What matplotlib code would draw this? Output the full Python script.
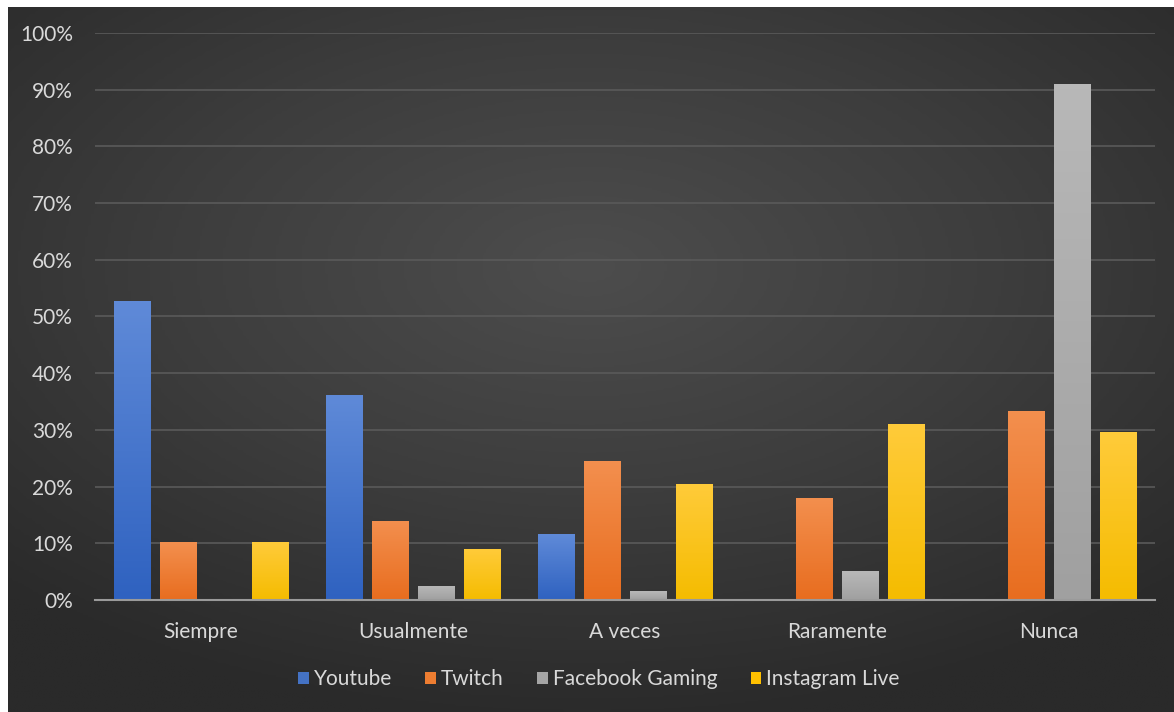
import numpy as np
import matplotlib
matplotlib.use('Agg')
import matplotlib.pyplot as plt
from matplotlib.colors import LinearSegmentedColormap
from matplotlib.patches import Rectangle
from matplotlib.ticker import PercentFormatter

plt.rcParams['font.family'] = ['Lato', 'DejaVu Sans']

# data
categories = ['Siempre', 'Usualmente', 'A veces', 'Raramente', 'Nunca']
youtube = [52.7, 36.2, 11.6, 0.0, 0.0]
twitch = [10.2, 14.0, 24.5, 18.0, 33.3]
facebook = [0.0, 2.5, 1.5, 5.1, 91.0]
instagram = [10.2, 9.0, 20.5, 31.0, 29.6]
series_names = ['Youtube', 'Twitch', 'Facebook Gaming', 'Instagram Live']
yticks = [0, 10, 20, 30, 40, 50, 60, 70, 80, 90, 100]

series = [youtube, twitch, facebook, instagram]
colors = ['#4472C4', '#ED7D31', '#A5A5A5', '#FFC000']
tops = ['#5F8AD8', '#F38F4E', '#B8B8B8', '#FFCB3A']
bottoms = ['#2F62C0', '#E86D1F', '#A0A0A0', '#F5BC00']

W, H = 1174, 712
fig = plt.figure(figsize=(W / 100, H / 100), dpi=100, facecolor='#2e2e2e')

# dark radial background (Excel style)
bg = fig.add_axes([0, 0, 1, 1])
bg.set_axis_off()
gx, gy = np.meshgrid(np.linspace(-1, 1, 400), np.linspace(-1, 1, 250))
r = np.sqrt((gx * 0.95) ** 2 + ((gy + 0.25) * 1.05) ** 2)
cmap_bg = LinearSegmentedColormap.from_list('bg', ['#4d4d4d', '#3d3d3d', '#2a2a2a'])
bg.imshow(r, cmap=cmap_bg, vmin=0, vmax=1.35, aspect='auto', extent=[0, 1, 0, 1])
bg.set_xlim(0, 1)
bg.set_ylim(0, 1)
# thin white margin at top and left
fig.patches.append(Rectangle((0, 0), 8 / W, 1, transform=fig.transFigure,
                             facecolor='white', edgecolor='none', zorder=10))
fig.patches.append(Rectangle((0, 1 - 7 / H), 1, 7 / H, transform=fig.transFigure,
                             facecolor='white', edgecolor='none', zorder=10))

ax = fig.add_axes([95 / W, 1 - 600 / H, 1060 / W, 567 / H])
ax.patch.set_alpha(0)

x = np.arange(len(categories))
step = 46 / 212
width = 37 / 212
handles = []
for i, vals in enumerate(series):
    off = (i - 1.5) * step
    bars = ax.bar(x + off, vals, width, color=colors[i], label=series_names[i], zorder=3)
    handles.append(bars)
    grad = np.linspace(0, 1, 100).reshape(-1, 1)
    cm = LinearSegmentedColormap.from_list('g%d' % i, [bottoms[i], tops[i]])
    for p in bars.patches:
        if p.get_height() <= 0:
            continue
        x0, y0 = p.get_x(), p.get_y()
        im = ax.imshow(grad, cmap=cm, origin='lower', aspect='auto',
                       extent=[x0, x0 + p.get_width(), y0, y0 + p.get_height()], zorder=4)
        im.set_clip_path(p)

ax.set_xlim(-0.5, len(categories) - 0.5)
ax.set_ylim(0, 100)
ax.set_yticks(yticks)
ax.yaxis.set_major_formatter(PercentFormatter(decimals=0))
ax.set_xticks(x)
ax.set_xticklabels(categories)
ax.grid(axis='y', color='#5a5a5a', linewidth=1.2, zorder=0)
for s in ['top', 'right', 'left']:
    ax.spines[s].set_visible(False)
ax.spines['bottom'].set_color('#9a9a9a')
ax.spines['bottom'].set_linewidth(1.5)
ax.spines['bottom'].set_zorder(5)
ax.tick_params(axis='y', length=0, pad=16, labelsize=15, labelcolor='#d9d9d9')
ax.tick_params(axis='x', length=0, pad=16, labelsize=15, labelcolor='#d9d9d9')

leg = fig.legend(handles=handles, labels=series_names, loc='center',
                 bbox_to_anchor=(599 / W, 1 - 679 / H), ncol=4, frameon=False,
                 fontsize=15, handlelength=0.5, handleheight=0.5,
                 handletextpad=0.25, columnspacing=1.6)
for t in leg.get_texts():
    t.set_color('#d9d9d9')

fig.savefig('out.png', dpi=100, facecolor=fig.get_facecolor())
